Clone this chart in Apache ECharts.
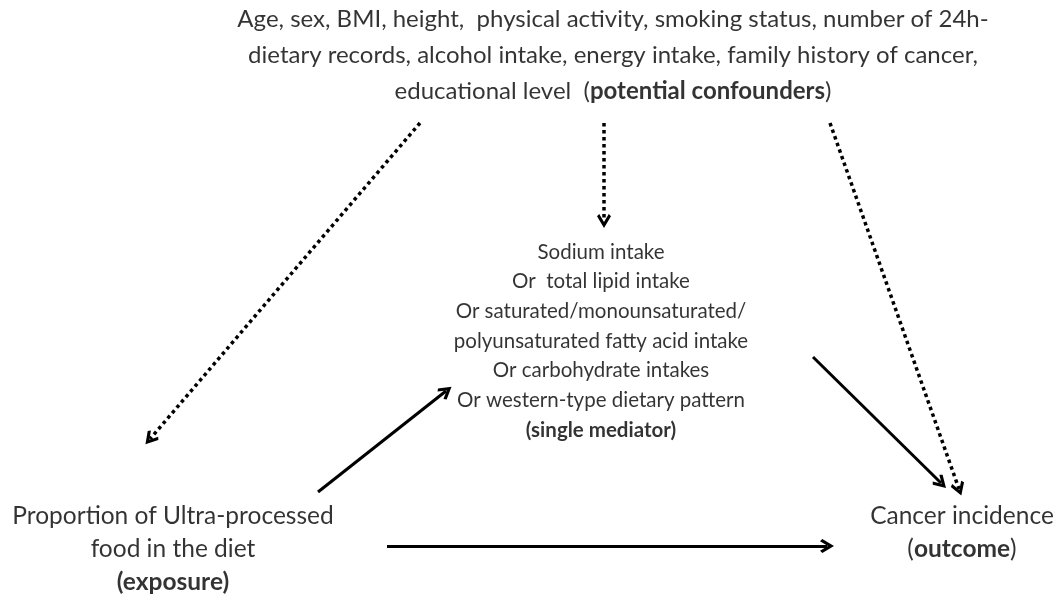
<!DOCTYPE html>
<html>
<head>
    <meta charset="UTF-8">
    <title>DAG</title>
    <style>
        html, body { margin: 0; padding: 0; width: 100%; height: 100%; background: #fff; }
        #dag { width: 1061px; height: 599px; }
    </style>
    <script src="https://cdn.jsdelivr.net/npm/echarts@6/dist/echarts.min.js"></script>
</head>
<body>
<div id="dag"></div>
<script type="text/javascript">
    // text blocks of the diagram ({b|..} = bold)
    var confounderLines = [
        'Age, sex, BMI, height,  physical activity, smoking status, number of 24h-',
        'dietary records, alcohol intake, energy intake, family history of cancer,',
        'educational level  ({b|potential confounders})'
    ];
    var mediatorLines = [
        'Sodium intake',
        'Or  total lipid intake',
        'Or saturated/monounsaturated/',
        'polyunsaturated fatty acid intake',
        'Or carbohydrate intakes',
        'Or western-type dietary pattern',
        '{b|(single mediator)}'
    ];
    var exposureLines = [
        'Proportion of Ultra-processed',
        'food in the diet',
        '{b|(exposure)}'
    ];
    var outcomeLines = [
        'Cancer incidence',
        '({b|outcome})'
    ];

    // arrows: [from, to], dotted or solid
    var arrowFrom = [[420, 123], [604, 123], [830, 123], [318, 492], [813, 357], [387, 546]];
    var arrowTo   = [[150, 439], [604, 221], [959, 489], [446, 391], [941, 483], [827, 546]];
    var arrowDotted = [true, true, true, false, false, false];

    var myChart = echarts.init(document.getElementById('dag'));

    // open arrow head, pointing up
    var chevron = 'path://M5,0 L10,7.5 L8.4,9 L5,3.9 L1.6,9 L0,7.5 Z';

    function textSeries(lines, cx, y0, step, size) {
        var data = [];
        for (var i = 0; i < lines.length; i++) {
            data.push({ value: [cx, y0 + i * step], txt: lines[i] });
        }
        return {
            type: 'scatter',
            symbolSize: 0,
            silent: true,
            data: data,
            label: {
                show: true,
                position: 'inside',
                formatter: function (p) { return p.data.txt; },
                fontFamily: 'Lato',
                fontSize: size,
                color: '#000',
                rich: {
                    b: { fontFamily: 'Lato', fontSize: size, fontWeight: 'bold', color: '#000' }
                }
            }
        };
    }

    var lineData = [];
    for (var i = 0; i < arrowFrom.length; i++) {
        lineData.push({
            coords: [arrowFrom[i], arrowTo[i]],
            lineStyle: arrowDotted[i]
                ? { type: [3.5, 3.5], width: 3.5, cap: 'butt' }
                : { type: 'solid', width: 3 }
        });
    }

    var option = {
        animation: false,
        grid: { left: 0, right: 0, top: 0, bottom: 0 },
        xAxis: { type: 'value', min: 0, max: 1061, show: false },
        yAxis: { type: 'value', min: 0, max: 599, inverse: true, show: false },
        series: [
            {
                type: 'lines',
                coordinateSystem: 'cartesian2d',
                silent: true,
                symbol: ['none', chevron],
                symbolSize: [17, 14],
                lineStyle: { color: '#000', opacity: 1 },
                data: lineData
            },
            textSeries(confounderLines, 613, 19, 36, 24),
            textSeries(mediatorLines, 601, 252, 29.7, 20.5),
            textSeries(exposureLines, 173, 516, 33, 24.5),
            textSeries(outcomeLines, 962, 516, 33, 24.5)
        ]
    };
    myChart.setOption(option);
</script>
</body>
</html>
